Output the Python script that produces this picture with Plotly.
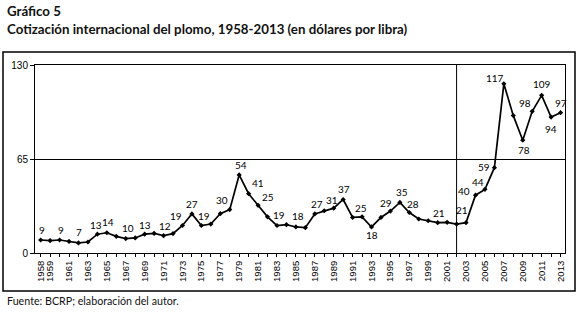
import plotly.graph_objects as go

# ---------------- data ----------------
years = list(range(1958, 2014))
prices = [9, 8.6, 9, 8, 7, 7.6, 13, 14, 11.5, 10, 10.4, 13, 13.6, 12, 13.4, 19,
          27, 19, 20, 27.2, 30, 54, 41, 33, 25, 19, 19.6, 18, 17.5, 27, 29.2, 31,
          37, 24.6, 25, 18, 24.6, 29, 35, 28, 23.5, 22.3, 21, 21.2, 20, 21, 40,
          44, 59, 117, 95, 78, 98, 109, 94, 97]
labeled_years = [1958, 1960, 1962, 1964, 1965, 1967, 1969, 1971, 1973, 1974, 1975,
                 1978, 1979, 1980, 1982, 1983, 1985, 1987, 1989, 1990, 1992, 1993,
                 1995, 1996, 1997, 2000, 2003, 2004, 2005, 2006, 2007, 2009, 2010,
                 2011, 2012, 2013]
tick_label_years = [1958] + list(range(1959, 2014, 2))
y_ticks = [0, 65, 130]
divider_year = 2002

title_1 = "Gráfico 5"
title_2 = "Cotización internacional del plomo, 1958-2013 (en dólares por libra)"
source = "Fuente: BCRP; elaboración del autor."

# label pixel offsets (dx right, dy down) relative to point
offsets = {
    1958: (1, -10), 1960: (1, -10), 1962: (1, -10.5), 1964: (-1, -9), 1965: (1, -11),
    1967: (2.5, -10.5), 1969: (0, -9.5), 1971: (1.5, -9.5), 1973: (-6, -10),
    1974: (0, -10), 1975: (2.5, -10), 1978: (-8, -10), 1979: (2, -10), 1980: (9, -11),
    1982: (0, -20), 1983: (2, -11), 1985: (2, -10.5), 1987: (2, -10), 1989: (-2, -8.5),
    1990: (1, -10), 1992: (-1, -9), 1993: (0, 8), 1995: (-4, -8.5), 1996: (2.5, -10),
    1997: (4, -9), 2000: (1, -9.5), 2003: (-4, -13), 2004: (-11, -4), 2005: (-7, -7),
    2006: (-10, -1), 2007: (-9, -6), 2009: (1, 9.5), 2010: (-7, -8), 2011: (0, -11),
    2012: (0, 11.5), 2013: (0, -10),
}

W, H = 579, 314
ML, MR, MT, MB = 35, 14, 65, 61
pw, ph = W - ML - MR, H - MT - MB
BOX_L, BOX_R, BOX_T, BOX_B = 3, 575, 52, 291

def px2paper_x(px):
    return (px - ML) / pw

def py2paper_y(py):
    return (H - MB - py) / ph

label_font = dict(family="Lato, sans-serif", size=10, color="black")

fig = go.Figure()
fig.add_trace(go.Scatter(
    x=years, y=prices, mode="lines+markers",
    line=dict(color="black", width=1.7),
    marker=dict(symbol="diamond", size=4, color="black"),
    hoverinfo="skip", showlegend=False,
))

annotations = []
for yr in labeled_years:
    v = prices[years.index(yr)]
    dx, dy = offsets[yr]
    annotations.append(dict(
        x=yr, y=v, xref="x", yref="y", text=str(round(v)), showarrow=False,
        xshift=dx, yshift=-dy, font=label_font, xanchor="center", yanchor="middle",
    ))

annotations += [
    dict(text="<b>" + title_1 + "</b>", x=px2paper_x(5), y=py2paper_y(11), xref="paper", yref="paper",
         xanchor="left", yanchor="middle", showarrow=False,
         font=dict(family="Lato, sans-serif", size=13.3, color="#111")),
    dict(text="<b>" + title_2 + "</b>", x=px2paper_x(5), y=py2paper_y(29), xref="paper", yref="paper",
         xanchor="left", yanchor="middle", showarrow=False,
         font=dict(family="Lato, sans-serif", size=13.3, color="#111")),
    dict(text=source, x=px2paper_x(5), y=py2paper_y(300), xref="paper", yref="paper",
         xanchor="left", yanchor="middle", showarrow=False,
         font=dict(family="Lato, sans-serif", size=10.7, color="#111")),
]

shapes = [
    dict(type="rect", xref="paper", yref="paper",
         x0=px2paper_x(BOX_L), x1=px2paper_x(BOX_R),
         y0=py2paper_y(BOX_B), y1=py2paper_y(BOX_T),
         line=dict(color="#000000", width=1.5), fillcolor="rgba(0,0,0,0)"),
    dict(type="line", xref="x", yref="y", x0=divider_year, x1=divider_year,
         y0=y_ticks[0], y1=y_ticks[-1], line=dict(color="black", width=1)),
]

# ticks every year, labels only on selected years
x_tickvals = years
x_ticktext = [str(y) if y in tick_label_years else "" for y in years]

fig.update_layout(
    width=W, height=H, margin=dict(l=ML, r=MR, t=MT, b=MB, autoexpand=False),
    paper_bgcolor="white", plot_bgcolor="white",
    annotations=annotations, shapes=shapes,
    xaxis=dict(
        range=[1957.4, 2013.47], tickmode="array", tickvals=x_tickvals, ticktext=x_ticktext,
        tickangle=-90, tickfont=dict(family="Liberation Sans, Arial", size=9.5, color="black"),
        ticks="outside", ticklen=3, tickcolor="black", showgrid=False, zeroline=False,
        showline=True, linecolor="black", linewidth=1, mirror=True,
    ),
    yaxis=dict(
        range=[0, 130], tickmode="array", tickvals=y_ticks, ticks="outside", ticklen=4,
        tickcolor="black",
        tickfont=dict(family="Liberation Sans, Arial", size=10, color="black"),
        showgrid=True, gridcolor="black", gridwidth=1, zeroline=False,
        showline=True, linecolor="black", linewidth=1, mirror=True,
    ),
)

fig.write_html("out.html", config={"displayModeBar": False},
               post_script="document.body.style.margin='0';")
